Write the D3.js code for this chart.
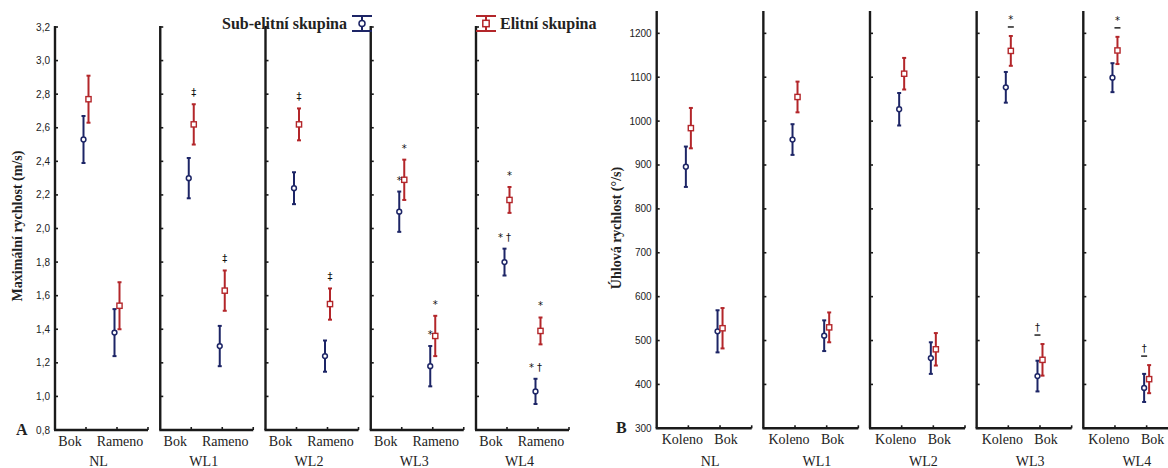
<!DOCTYPE html>
<html>
<head>
<script src="https://cdn.jsdelivr.net/npm/d3@7"></script>
<style type="text/css">
	body { margin: 0; background: #fff; }
	text { fill: #222; }
	.tick-lbl { font-family: "Liberation Sans", Arial, sans-serif; font-size: 10px; }
	.cat-lbl { font-family: "Liberation Serif", "Times New Roman", serif; font-size: 14px; }
	.ttl { font-family: "Liberation Serif", "Times New Roman", serif; font-size: 14px; font-weight: bold; }
	.leg { font-family: "Liberation Serif", "Times New Roman", serif; font-size: 16px; font-weight: bold; }
	.ann { font-family: "DejaVu Sans", sans-serif; font-size: 10px; fill: #111; }
</style>
</head>
<body>
<script>

// categories
var groups = ["NL", "WL1", "WL2", "WL3", "WL4"];
var catsA = ["Bok", "Rameno"];
var catsB = ["Koleno", "Bok"];
var series = ["Sub-elitní skupina", "Elitní skupina"];

// A: maximální rychlost (m/s), mean and half error bar, [group][category]
var subMeanA   = [[2.53, 1.38], [2.30, 1.30], [2.24, 1.24], [2.10, 1.18], [1.80, 1.03]];
var subErrA    = [[0.14, 0.14], [0.12, 0.12], [0.095, 0.093], [0.12, 0.12], [0.08, 0.075]];
var eliteMeanA = [[2.77, 1.54], [2.62, 1.63], [2.62, 1.55], [2.29, 1.36], [2.17, 1.39]];
var eliteErrA  = [[0.14, 0.14], [0.12, 0.12], [0.095, 0.093], [0.12, 0.12], [0.077, 0.08]];
var ticksA = [0.8, 1.0, 1.2, 1.4, 1.6, 1.8, 2.0, 2.2, 2.4, 2.6, 2.8, 3.0, 3.2];

// B: úhlová rychlost (°/s)
var subMeanB   = [[896, 521], [958, 511], [1027, 460], [1077, 419], [1099, 392]];
var subErrB    = [[46, 48], [35, 35], [37, 36], [35, 35], [33, 32]];
var eliteMeanB = [[984, 528], [1055, 530], [1108, 480], [1160, 456], [1161, 412]];
var eliteErrB  = [[46, 46], [35, 34], [36, 37], [34, 36], [31, 32]];
var ticksB = [300, 400, 500, 600, 700, 800, 900, 1000, 1100, 1200];

// significance marks: [group, category, series (0 sub, 1 elite), symbol]
var marksA = [
	[1, 0, 1, "‡"], [1, 1, 1, "‡"], [2, 0, 1, "‡"], [2, 1, 1, "‡"],
	[3, 0, 0, "*"], [3, 0, 1, "*"], [3, 1, 0, "*"], [3, 1, 1, "*"],
	[4, 0, 0, "* †"], [4, 0, 1, "*"], [4, 1, 0, "* †"], [4, 1, 1, "*"]
];
var marksB = [
	[3, 0, 1, "*"], [4, 0, 1, "*"], [3, 1, 0, "†"], [4, 1, 0, "†"]
];

var colors = ["#1d2566", "#b3262a"];

var svg = d3.select("body").append("svg")
	.attr("width", 1168)
	.attr("height", 468);

function panelChart(opt) {
	var gx = d3.scaleBand().domain(groups).range([opt.x0, opt.x1]).paddingInner(opt.gap).paddingOuter(0);
	var cx = d3.scalePoint().domain(opt.cats).range([0, gx.bandwidth()]).padding(1);
	var y = d3.scaleLinear().domain(opt.domain).range([opt.bottom, opt.top]);
	var g = svg.append("g");

	// value tick labels on the left
	g.selectAll(".tick-lbl").data(opt.ticks).enter().append("text")
		.attr("class", "tick-lbl")
		.attr("x", opt.x0 - 5)
		.attr("y", function (d) { return y(d) + 3.5; })
		.attr("text-anchor", "end")
		.text(opt.fmt);

	groups.forEach(function (grp, gi) {
		var px = gx(grp);
		var pg = g.append("g").attr("transform", "translate(" + px + ",0)");

		// frame: left and bottom axis lines
		pg.append("line").attr("x1", 0).attr("x2", 0)
			.attr("y1", opt.axisTop).attr("y2", opt.bottom)
			.attr("stroke", "#1a1a1a").attr("stroke-width", 2.4);
		pg.append("line").attr("x1", -1).attr("x2", gx.bandwidth())
			.attr("y1", opt.bottom).attr("y2", opt.bottom)
			.attr("stroke", "#1a1a1a").attr("stroke-width", 2.4);

		pg.selectAll(".yt").data(opt.ticks).enter().append("line")
			.attr("x1", 0).attr("x2", 3)
			.attr("y1", function (d) { return y(d); })
			.attr("y2", function (d) { return y(d); })
			.attr("stroke", "#1a1a1a").attr("stroke-width", 1.6);

		var xt = opt.cats.map(function (c) { return cx(c); }).concat([gx.bandwidth()]);
		pg.selectAll(".xt").data(xt).enter().append("line")
			.attr("x1", function (d) { return d; }).attr("x2", function (d) { return d; })
			.attr("y1", opt.bottom).attr("y2", opt.bottom - 3)
			.attr("stroke", "#1a1a1a").attr("stroke-width", 1.6);

		// category labels
		opt.cats.forEach(function (c, ci) {
			pg.append("text").attr("class", "cat-lbl")
				.attr("x", cx(c) + opt.labShift[ci])
				.attr("y", opt.bottom + 16)
				.attr("text-anchor", "middle")
				.text(c);
		});
		pg.append("text").attr("class", "cat-lbl")
			.attr("x", gx.bandwidth() / 2 + opt.grpShift)
			.attr("y", 466)
			.attr("text-anchor", "middle")
			.text(grp);

		// error bars
		[0, 1].forEach(function (s) {
			var means = s === 0 ? opt.subMean : opt.eliteMean;
			var errs = s === 0 ? opt.subErr : opt.eliteErr;
			var dx = s === 0 ? -2.5 : 2.5;
			opt.cats.forEach(function (c, ci) {
				var m = means[gi][ci], e = errs[gi][ci];
				var xx = cx(c) + dx;
				var eg = pg.append("g").attr("stroke", colors[s]).attr("stroke-width", 2).attr("fill", "none");
				eg.append("line").attr("x1", xx).attr("x2", xx).attr("y1", y(m - e)).attr("y2", y(m + e));
				eg.append("line").attr("x1", xx - 2).attr("x2", xx + 2).attr("y1", y(m + e)).attr("y2", y(m + e));
				eg.append("line").attr("x1", xx - 2).attr("x2", xx + 2).attr("y1", y(m - e)).attr("y2", y(m - e));
				if (s === 0) {
					eg.append("circle").attr("cx", xx).attr("cy", y(m)).attr("r", 2.4)
						.attr("fill", "#fff").attr("stroke-width", 1.5);
				} else {
					eg.append("rect").attr("x", xx - 2.6).attr("y", y(m) - 2.6)
						.attr("width", 5.2).attr("height", 5.2)
						.attr("fill", "#fff").attr("stroke-width", 1.4);
				}
			});
		});

		// significance marks
		opt.marks.filter(function (k) { return k[0] === gi; }).forEach(function (k) {
			var ci = k[1];
			var topSub = y(opt.subMean[gi][ci] + opt.subErr[gi][ci]);
			var topElite = y(opt.eliteMean[gi][ci] + opt.eliteErr[gi][ci]);
			var top = opt.markDash ? Math.min(topSub, topElite) : (k[2] === 0 ? topSub : topElite);
			var xx = cx(opt.cats[ci]) + (k[2] === 0 ? -2.5 : 2.5);
			pg.append("text").attr("class", "ann")
				.attr("x", xx)
				.attr("y", top - opt.markGap)
				.attr("text-anchor", "middle")
				.text(k[3]);
			if (opt.markDash) {
				pg.append("line")
					.attr("x1", xx - 3).attr("x2", xx + 3)
					.attr("y1", top - opt.markGap + 4).attr("y2", top - opt.markGap + 4)
					.attr("stroke", "#222").attr("stroke-width", 1.5);
			}
		});
	});

	// axis title and panel letter
	g.append("text").attr("class", "ttl")
		.attr("transform", "translate(" + opt.titleX + "," + opt.titleY + ") rotate(-90)")
		.attr("text-anchor", "middle")
		.text(opt.title);
	g.append("text")
		.attr("x", opt.letterX).attr("y", opt.bottom + 5)
		.attr("font-family", "Liberation Serif, serif")
		.attr("font-weight", "bold").attr("font-size", 16)
		.text(opt.letter);
}

panelChart({
	x0: 55, x1: 569, gap: 0.1164,
	domain: [0.8, 3.2], top: 27, bottom: 430, axisTop: 26,
	cats: catsA, ticks: ticksA,
	fmt: function (d) { return d3.format(".1f")(d).replace(".", ","); },
	subMean: subMeanA, subErr: subErrA, eliteMean: eliteMeanA, eliteErr: eliteErrA,
	marks: marksA, markGap: 8, markDash: false,
	labShift: [-16, 3], grpShift: -3,
	title: "Maximální rychlost (m/s)", titleX: 22, titleY: 226,
	letter: "A", letterX: 16
});

panelChart({
	x0: 656.7, x1: 1178.3, gap: 0.1092,
	domain: [300, 1250], top: 11.4, bottom: 428.3, axisTop: 11,
	cats: catsB, ticks: ticksB,
	fmt: function (d) { return d; },
	subMean: subMeanB, subErr: subErrB, eliteMean: eliteMeanB, eliteErr: eliteErrB,
	marks: marksB, markGap: 13, markDash: true,
	labShift: [-6, 6], grpShift: 6,
	title: "Úhlová rychlost (°/s)", titleX: 621, titleY: 228,
	letter: "B", letterX: 616
});

// legend
var legX = [362, 486];
series.forEach(function (name, s) {
	var lg = svg.append("g").attr("stroke", colors[s]).attr("stroke-width", 2).attr("fill", "none");
	lg.append("line").attr("x1", legX[s]).attr("x2", legX[s]).attr("y1", 16).attr("y2", 31);
	lg.append("line").attr("x1", legX[s] - 10).attr("x2", legX[s] + 10).attr("y1", 16).attr("y2", 16);
	lg.append("line").attr("x1", legX[s] - 10).attr("x2", legX[s] + 10).attr("y1", 31).attr("y2", 31);
	if (s === 0) {
		lg.append("circle").attr("cx", legX[s]).attr("cy", 23.5).attr("r", 3).attr("fill", "#fff").attr("stroke-width", 1.5);
	} else {
		lg.append("rect").attr("x", legX[s] - 3.2).attr("y", 20.3).attr("width", 6.4).attr("height", 6.4).attr("fill", "#fff").attr("stroke-width", 1.5);
	}
	svg.append("text").attr("class", "leg")
		.attr("x", s === 0 ? legX[s] - 15 : legX[s] + 14)
		.attr("y", 29)
		.attr("text-anchor", s === 0 ? "end" : "start")
		.text(name);
});

</script>
</body>
</html>
